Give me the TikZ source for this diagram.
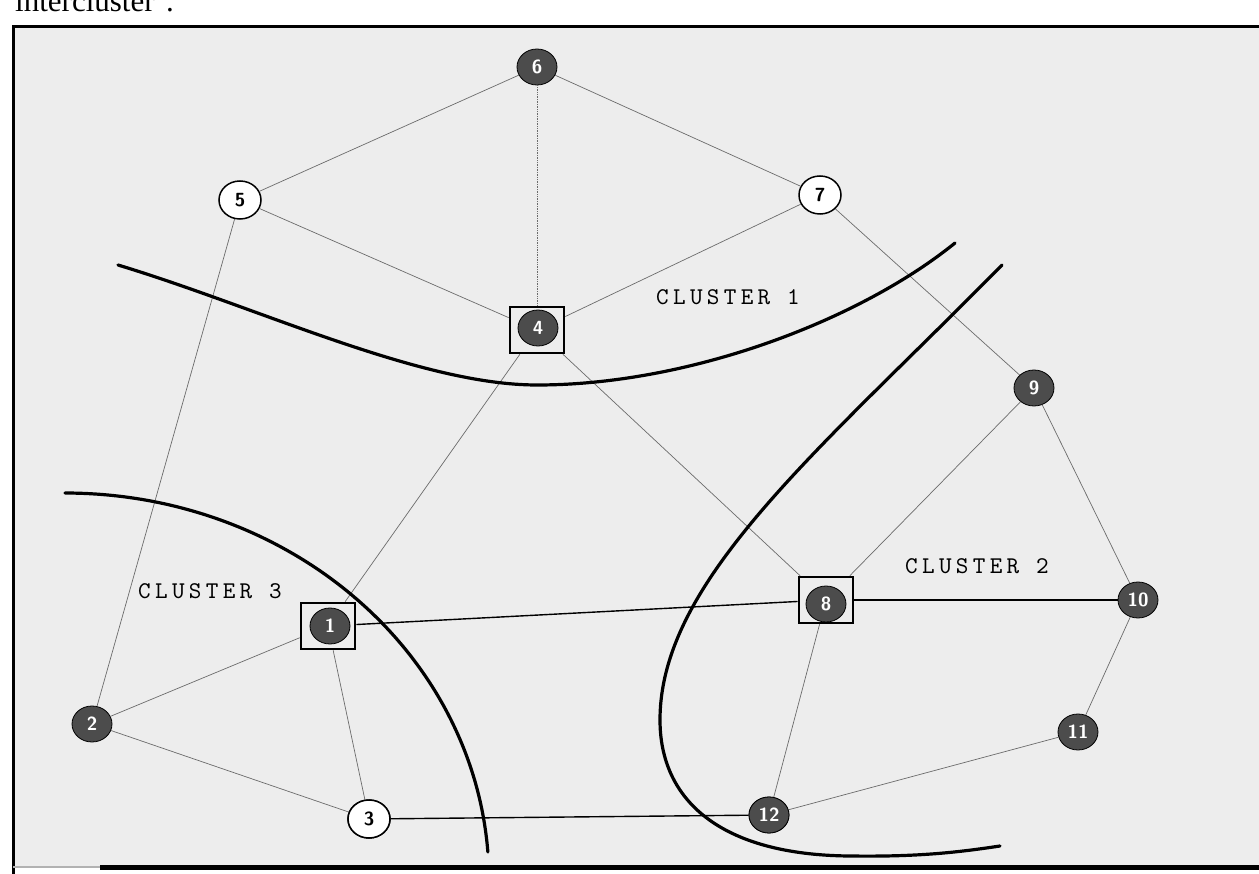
\documentclass[tikz,border=0pt]{standalone}
\usepackage{fontspec}
\setmainfont{Liberation Serif}
\newfontfamily\clusterfont[LetterSpace=18]{lmmono10-regular.otf}
\usetikzlibrary{shapes.geometric}
\definecolor{stipple}{gray}{0.93}
\definecolor{nodefill}{gray}{0.30}
\definecolor{edgegray}{gray}{0.42}
\begin{document}
\begin{tikzpicture}[x=1pt,y=-1pt,
  host/.style={ellipse, draw=black, line width=0.8pt, fill=nodefill, minimum width=40pt,
    minimum height=36pt, inner sep=0pt, text=white, font=\sffamily\bfseries\fontsize{19}{19}\selectfont},
  hostwhite/.style={ellipse, draw=black, line width=1.5pt, fill=white, minimum width=42pt,
    minimum height=38pt, inner sep=0pt, font=\sffamily\bfseries\fontsize{19}{19}\selectfont},
  headbox/.style={draw=black, line width=2.6pt, minimum width=54pt, minimum height=46pt, inner sep=0pt},
  link/.style={draw=edgegray, line width=0.7pt},
  trunk/.style={draw=black, line width=1.4pt},
  boundary/.style={draw=black, line width=3.2pt, line cap=round},
  clusterlabel/.style={font=\clusterfont\fontsize{24}{24}\selectfont, inner sep=0pt}
]
\useasboundingbox (0,0) rectangle (1259,874);

% page caption, cut by the top edge
\node[anchor=base west, inner sep=0pt, font=\fontsize{31}{31}\selectfont] (caption) at (15,12) {intercluster’.};

% stippled panel and its frame
\fill[stipple] (13,27) rectangle (1259,867);
\draw[line width=3pt] (13,874) -- (13,27) -- (1259,27);
\draw[line width=5pt] (100,867) -- (1259,867);
\draw[line width=2pt, gray!60] (13,867) -- (100,867);

% cluster heads: boxes
\node[headbox] (b4) at (537,330) {};
\node[headbox] (b8) at (826,600) {};
\node[headbox] (b1) at (328,626) {};

% hosts
\node[host] (n6) at (537,67) {6};
\node[hostwhite] (n5) at (240,200) {5};
\node[hostwhite] (n7) at (820,195) {7};
\node[host] (n4) at (538,328) {4};
\node[host] (n9) at (1034,388) {9};
\node[host] (n8) at (826,604) {8};
\node[host] (n10) at (1138,600) {10};
\node[host] (n11) at (1078,732) {11};
\node[host] (n12) at (769,815) {12};
\node[hostwhite] (n3) at (369,819) {3};
\node[host] (n2) at (92,724) {2};
\node[host] (n1) at (330,626) {1};

% links
\draw[link] (n6) -- (n5);
\draw[link, densely dotted] (n6) -- (b4);
\draw[link] (n6) -- (n7);
\draw[link] (n5) -- (b4);
\draw[link] (n7) -- (b4);
\draw[link] (n5) -- (n2);
\draw[link] (n7) -- (n9);
\draw[link] (b4) -- (b1);
\draw[link] (b4) -- (b8);
\draw[link] (n9) -- (b8);
\draw[link] (n9) -- (n10);
\draw[link] (n10) -- (n11);
\draw[link] (n11) -- (n12);
\draw[link] (b8) -- (n12);
\draw[link] (b1) -- (n2);
\draw[link] (b1) -- (n3);
\draw[link] (n2) -- (n3);
\draw[trunk] (b1) -- (b8);
\draw[trunk] (n3) -- (n12);
\draw[trunk] (b8) -- (n10);

% cluster boundaries
\draw[boundary] (118,265) .. controls (260,308) and (420,385) .. (537,385)
  .. controls (690,385) and (860,320) .. (955,243);
\draw[boundary] plot[domain=90:4.15, samples=80, smooth] ({65+424*cos(\x)}, {880-387*sin(\x)});
\draw[boundary] (1002,265) .. controls (820,450) and (660,580) .. (660,720)
  .. controls (660,800) and (720,855) .. (850,856)
  .. controls (920,857) and (960,852) .. (1000,846);

% hosts lying on a boundary stay on top
\node[host] at (n12) {12};
\node[hostwhite] at (n3) {3};

% cluster names
\node[clusterlabel] (c1) at (728,297) {CLUSTER 1};
\node[clusterlabel] (c2) at (977,566) {CLUSTER 2};
\node[clusterlabel] (c3) at (210,591) {CLUSTER 3};
\end{tikzpicture}
\end{document}
